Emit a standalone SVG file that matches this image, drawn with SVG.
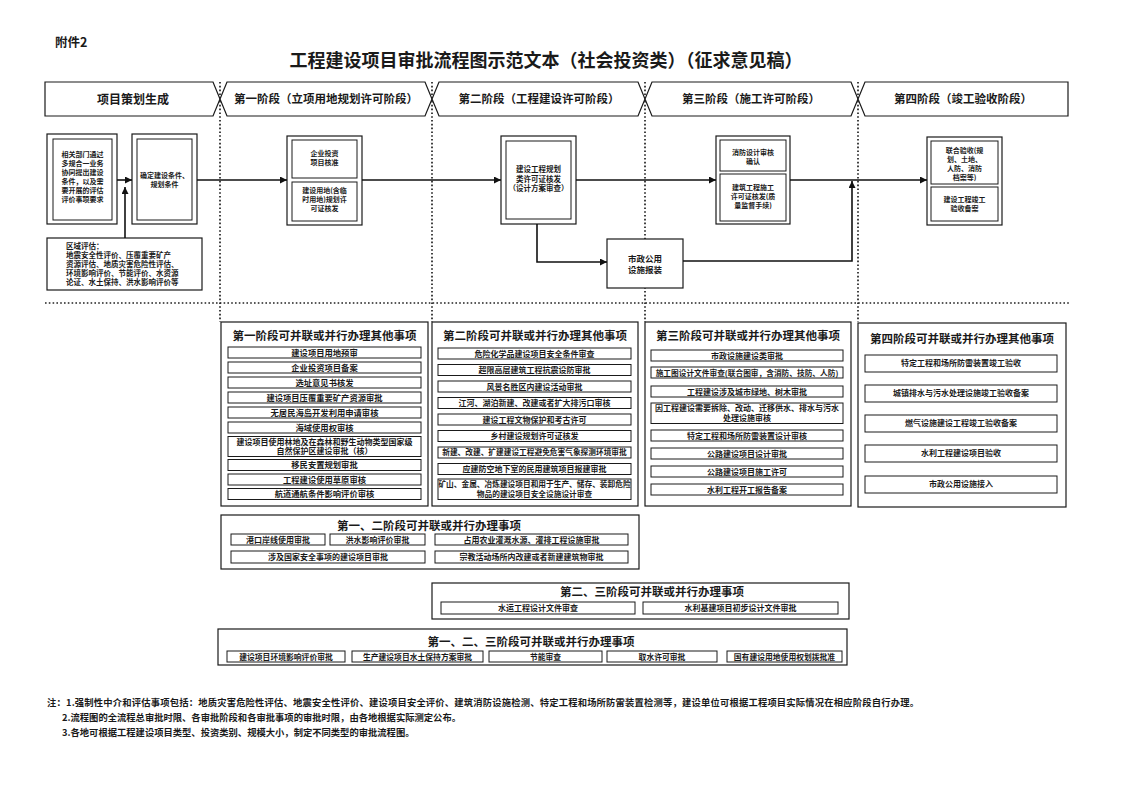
<svg xmlns="http://www.w3.org/2000/svg" width="1124" height="794" viewBox="0 0 1124 794">
<style>
.t{font-family:"Noto Sans CJK SC","Noto Sans CJK TC",sans-serif;font-weight:bold;fill:#1a1a1a;text-anchor:middle}
.l{text-anchor:start}
.b{fill:#fff;stroke:#1a1a1a;stroke-width:1.2}
.i{fill:#fff;stroke:#1a1a1a;stroke-width:1}
.dot{fill:none;stroke:#222;stroke-width:1.7;stroke-dasharray:1.6 2.2}
.ln{fill:none;stroke:#111;stroke-width:1.6}
.s7{font-size:7px}.s75{font-size:7.5px}.s8{font-size:8px}.s83{font-size:8.3px}
.h{font-size:11.5px}
</style>
<defs>
<marker id="ar" viewBox="0 0 10 10" refX="10" refY="5" markerWidth="8" markerHeight="7" markerUnits="userSpaceOnUse" orient="auto">
<path d="M0,0L10,5L0,10Z" fill="#111"/>
</marker>
</defs>
<rect width="1124" height="794" fill="#fff"/>

<text class="t l" x="55" y="47" style="font-size:12.5px">附件2</text>
<text class="t" x="546" y="67" style="font-size:18px">工程建设项目审批流程图示范文本（社会投资类）（征求意见稿）</text>

<g id="dividers">
<path class="dot" d="M220,82V322M432,82V322M645,82V322M858,82V322"/>
<path class="dot" d="M45,303H1070"/>
</g>

<g id="header">
<path class="b" d="M45,82H213L220,99L213,116H45Z"/>
<text class="t" x="133" y="103.5" style="font-size:12px">项目策划生成</text>
<path class="b" d="M227,82H425L432,99L425,116H227L220,99Z"/>
<text class="t h" x="326" y="103">第一阶段（立项用地规划许可阶段）</text>
<path class="b" d="M439,82H638L645,99L638,116H439L432,99Z"/>
<text class="t h" x="539" y="103">第二阶段（工程建设许可阶段）</text>
<path class="b" d="M652,82H851L858,99L851,116H652L645,99Z"/>
<text class="t h" x="751" y="103">第三阶段（施工许可阶段）</text>
<path class="b" d="M865,82H1068V116H865L858,99Z"/>
<text class="t h" x="963" y="103">第四阶段（竣工验收阶段）</text>
</g>

<g id="nodeA">
<rect class="b" x="47" y="134" width="70" height="90"/>
<rect class="i" x="53" y="139" width="59" height="81"/>
<text class="t s7"><tspan x="82.5" y="157">相关部门通过</tspan><tspan x="82.5" y="166">多规合一业务</tspan><tspan x="82.5" y="175">协同提出建设</tspan><tspan x="82.5" y="184">条件，以及需</tspan><tspan x="82.5" y="193">要开展的评估</tspan><tspan x="82.5" y="202">评价事项要求</tspan></text>
</g>
<g id="nodeB">
<rect class="b" x="132" y="134" width="65" height="90"/>
<rect class="i" x="137" y="139" width="55" height="81"/>
<text class="t s7"><tspan x="164.5" y="178">确定建设条件、</tspan><tspan x="164.5" y="187">规划条件</tspan></text>
</g>
<g id="region">
<rect class="b" x="47" y="238" width="155" height="52"/>
<text class="t l s75"><tspan x="66" y="248.5">区域评估：</tspan><tspan x="66" y="257.7">地震安全性评价、压覆重要矿产</tspan><tspan x="66" y="266.9">资源评估、地质灾害危险性评估、</tspan><tspan x="66" y="276.1">环境影响评价、节能评价、水资源</tspan><tspan x="66" y="285.3">论证、水土保持、洪水影响评价等</tspan></text>
</g>
<g id="stage1">
<rect class="b" x="287" y="136" width="75" height="89"/>
<rect class="i" x="292" y="140" width="65" height="38"/>
<rect class="i" x="292" y="182" width="65" height="39"/>
<text class="t s7"><tspan x="324.5" y="156">企业投资</tspan><tspan x="324.5" y="165">项目核准</tspan></text>
<text class="t s7"><tspan x="324.5" y="193">建设用地(含临</tspan><tspan x="324.5" y="202">时用地)规划许</tspan><tspan x="324.5" y="211">可证核发</tspan></text>
</g>
<g id="stage2">
<rect class="b" x="501" y="136" width="75" height="88"/>
<rect class="i" x="506" y="141" width="65" height="78"/>
<text class="t s75"><tspan x="538.5" y="172">建设工程规划</tspan><tspan x="538.5" y="181.5">类许可证核发</tspan><tspan x="538.5" y="191">（设计方案审查）</tspan></text>
</g>
<g id="municipal">
<rect class="b" x="607" y="239" width="76" height="49"/>
<text class="t" style="font-size:8.5px"><tspan x="645" y="261.5">市政公用</tspan><tspan x="645" y="273">设施报装</tspan></text>
</g>
<g id="stage3">
<rect class="b" x="716" y="136" width="74" height="88"/>
<rect class="i" x="720" y="140" width="66" height="31"/>
<rect class="i" x="720" y="174" width="66" height="47"/>
<text class="t s7"><tspan x="753" y="154.5">消防设计审核</tspan><tspan x="753" y="163.5">确认</tspan></text>
<text class="t s7"><tspan x="753" y="189.5">建筑工程施工</tspan><tspan x="753" y="198.5">许可证核发(质</tspan><tspan x="753" y="207.5">量监督手续)</tspan></text>
</g>
<g id="stage4">
<rect class="b" x="927" y="137" width="75" height="88"/>
<rect class="i" x="931" y="141" width="67" height="43"/>
<rect class="i" x="931" y="187" width="67" height="34"/>
<text class="t s7"><tspan x="964.5" y="152.5">联合验收(规</tspan><tspan x="964.5" y="161.5">划、土地、</tspan><tspan x="964.5" y="170.5">人防、消防</tspan><tspan x="964.5" y="179.5">档案等)</tspan></text>
<text class="t s7"><tspan x="964.5" y="202">建设工程竣工</tspan><tspan x="964.5" y="211">验收备案</tspan></text>
</g>

<g id="connectors">
<path class="ln" d="M117,180H132" marker-end="url(#ar)"/>
<path class="ln" d="M125,238V187" marker-end="url(#ar)"/>
<path class="ln" d="M197,180H287" marker-end="url(#ar)"/>
<path class="ln" d="M362,180H501" marker-end="url(#ar)"/>
<path class="ln" d="M576,180H716" marker-end="url(#ar)"/>
<path class="ln" d="M790,180H927" marker-end="url(#ar)"/>
<path class="ln" d="M537,224V262H607" marker-end="url(#ar)"/>
<path class="ln" d="M683,261H852V181" marker-end="url(#ar)"/>
</g>

<g id="list1">
<rect class="b" x="221" y="322" width="207" height="184"/>
<text class="t h" x="324.5" y="340">第一阶段可并联或并行办理其他事项</text>
<rect class="i" x="228" y="347" width="193" height="11"/><text class="t s83" x="324.5" y="355.6">建设项目用地预审</text>
<rect class="i" x="228" y="362" width="193" height="11"/><text class="t s83" x="324.5" y="370.6">企业投资项目备案</text>
<rect class="i" x="228" y="377" width="193" height="11"/><text class="t s83" x="324.5" y="385.6">选址意见书核发</text>
<rect class="i" x="228" y="392" width="193" height="11"/><text class="t s83" x="324.5" y="400.6">建设项目压覆重要矿产资源审批</text>
<rect class="i" x="228" y="407" width="193" height="11"/><text class="t s83" x="324.5" y="415.6">无居民海岛开发利用申请审核</text>
<rect class="i" x="228" y="422" width="193" height="11"/><text class="t s83" x="324.5" y="430.6">海域使用权审核</text>
<rect class="i" x="228" y="436.5" width="193" height="20"/><text class="t s8"><tspan x="324.5" y="444.5">建设项目使用林地及在森林和野生动物类型国家级</tspan><tspan x="324.5" y="454">自然保护区建设审批（核）</tspan></text>
<rect class="i" x="228" y="459.5" width="193" height="11"/><text class="t s83" x="324.5" y="468.1">移民安置规划审批</text>
<rect class="i" x="228" y="474" width="193" height="11"/><text class="t s83" x="324.5" y="482.6">工程建设使用草原审核</text>
<rect class="i" x="228" y="488.5" width="193" height="11"/><text class="t s83" x="324.5" y="497.1">航道通航条件影响评价审核</text>
</g>

<g id="list2">
<rect class="b" x="432" y="322" width="206" height="184"/>
<text class="t h" x="535" y="340">第二阶段可并联或并行办理其他事项</text>
<rect class="i" x="438" y="348" width="193" height="11"/><text class="t s8" x="534.5" y="356.5">危险化学品建设项目安全条件审查</text>
<rect class="i" x="438" y="364.5" width="193" height="11"/><text class="t s8" x="534.5" y="373">超限高层建筑工程抗震设防审批</text>
<rect class="i" x="438" y="381" width="193" height="11"/><text class="t s8" x="534.5" y="389.5">风景名胜区内建设活动审批</text>
<rect class="i" x="438" y="397.5" width="193" height="11"/><text class="t s8" x="534.5" y="406">江河、湖泊新建、改建或者扩大排污口审核</text>
<rect class="i" x="438" y="414" width="193" height="11"/><text class="t s8" x="534.5" y="422.5">建设工程文物保护和考古许可</text>
<rect class="i" x="438" y="430.5" width="193" height="11"/><text class="t s8" x="534.5" y="439">乡村建设规划许可证核发</text>
<rect class="i" x="438" y="447" width="193" height="11"/><text class="t" style="font-size:7.7px" x="534.5" y="455.4">新建、改建、扩建建设工程避免危害气象探测环境审批</text>
<rect class="i" x="438" y="463.5" width="193" height="11"/><text class="t s8" x="534.5" y="472">应建防空地下室的民用建筑项目报建审批</text>
<rect class="i" x="438" y="479" width="193" height="20.5"/><text class="t" style="font-size:7.7px"><tspan x="534.5" y="487.2">矿山、金属、冶炼建设项目和用于生产、储存、装卸危险</tspan><tspan x="534.5" y="496.5">物品的建设项目安全设施设计审查</tspan></text>
</g>

<g id="list3">
<rect class="b" x="645" y="322" width="206" height="184"/>
<text class="t h" x="748" y="340">第三阶段可并联或并行办理其他事项</text>
<rect class="i" x="651" y="350" width="192" height="11"/><text class="t s8" x="747" y="358.5">市政设施建设类审批</text>
<rect class="i" x="651" y="367" width="192" height="11"/><text class="t" style="font-size:7.7px" x="747" y="375.5">施工图设计文件审查(联合图审，含消防、技防、人防)</text>
<rect class="i" x="651" y="386" width="192" height="11"/><text class="t s8" x="747" y="394.5">工程建设涉及城市绿地、树木审批</text>
<rect class="i" x="651" y="403" width="192" height="20.5"/><text class="t s8"><tspan x="747" y="411.3">因工程建设需要拆除、改动、迁移供水、排水与污水</tspan><tspan x="747" y="420.8">处理设施审核</tspan></text>
<rect class="i" x="651" y="430" width="192" height="11"/><text class="t s8" x="747" y="438.5">特定工程和场所防雷装置设计审核</text>
<rect class="i" x="651" y="448" width="192" height="11"/><text class="t s8" x="747" y="456.5">公路建设项目设计审批</text>
<rect class="i" x="651" y="466" width="192" height="11"/><text class="t s8" x="747" y="474.5">公路建设项目施工许可</text>
<rect class="i" x="651" y="484" width="192" height="11"/><text class="t s8" x="747" y="492.5">水利工程开工报告备案</text>
</g>

<g id="list4">
<rect class="b" x="858" y="323" width="208" height="184"/>
<text class="t h" x="962" y="343">第四阶段可并联或并行办理其他事项</text>
<rect class="i" x="865" y="355" width="192" height="17"/><text class="t s8" x="961" y="366.3">特定工程和场所防雷装置竣工验收</text>
<rect class="i" x="865" y="385" width="192" height="17"/><text class="t s8" x="961" y="396.3">城镇排水与污水处理设施竣工验收备案</text>
<rect class="i" x="865" y="415" width="192" height="17"/><text class="t s8" x="961" y="426.3">燃气设施建设工程竣工验收备案</text>
<rect class="i" x="865" y="445" width="192" height="17"/><text class="t s8" x="961" y="456.3">水利工程建设项目验收</text>
<rect class="i" x="865" y="476" width="192" height="17"/><text class="t s8" x="961" y="487.3">市政公用设施接入</text>
</g>

<g id="par12">
<rect class="b" x="221" y="515" width="418" height="54"/>
<text class="t h" x="429" y="529.5">第一、二阶段可并联或并行办理事项</text>
<rect class="i" x="231" y="534" width="94" height="11"/><text class="t s8" x="278" y="542.5">港口岸线使用审批</text>
<rect class="i" x="330" y="534" width="95" height="11"/><text class="t s8" x="377.5" y="542.5">洪水影响评价审批</text>
<rect class="i" x="435" y="534" width="193" height="11"/><text class="t s8" x="531.5" y="542.5">占用农业灌溉水源、灌排工程设施审批</text>
<rect class="i" x="231" y="551" width="194" height="12"/><text class="t s8" x="328" y="560">涉及国家安全事项的建设项目审批</text>
<rect class="i" x="435" y="551" width="193" height="12"/><text class="t s8" x="531.5" y="560">宗教活动场所内改建或者新建建筑物审批</text>
</g>

<g id="par23">
<rect class="b" x="432" y="583" width="417" height="36"/>
<text class="t h" x="652" y="596">第二、三阶段可并联或并行办理事项</text>
<rect class="i" x="441" y="602" width="194" height="12"/><text class="t s8" x="538" y="611">水运工程设计文件审查</text>
<rect class="i" x="643" y="602" width="195" height="12"/><text class="t s8" x="740.5" y="611">水利基建项目初步设计文件审批</text>
</g>

<g id="par123">
<rect class="b" x="218" y="629" width="629" height="36"/>
<text class="t h" x="531" y="646">第一、二、三阶段可并联或并行办理事项</text>
<rect class="i" x="227" y="651" width="118" height="11"/><text class="t" style="font-size:7.8px" x="286" y="659.5">建设项目环境影响评价审批</text>
<rect class="i" x="352" y="651" width="131" height="11"/><text class="t" style="font-size:7.8px" x="417.5" y="659.5">生产建设项目水土保持方案审批</text>
<rect class="i" x="489" y="651" width="113" height="11"/><text class="t" style="font-size:7.8px" x="545.5" y="659.5">节能审查</text>
<rect class="i" x="607" y="651" width="110" height="11"/><text class="t" style="font-size:7.8px" x="662" y="659.5">取水许可审批</text>
<rect class="i" x="727" y="651" width="115" height="11"/><text class="t" style="font-size:7.8px" x="784.5" y="659.5">国有建设用地使用权划拨批准</text>
</g>

<g id="notes">
<text class="t l" x="47" y="706" style="font-size:9.3px" textLength="872" lengthAdjust="spacing">注：1.强制性中介和评估事项包括：地质灾害危险性评估、地震安全性评价、建设项目安全评价、建筑消防设施检测、特定工程和场所防雷装置检测等，建设单位可根据工程项目实际情况在相应阶段自行办理。</text>
<text class="t l" x="62" y="721" style="font-size:9.3px">2.流程图的全流程总审批时限、各审批阶段和各审批事项的审批时限，由各地根据实际测定公布。</text>
<text class="t l" x="62" y="736" style="font-size:9.3px">3.各地可根据工程建设项目类型、投资类别、规模大小，制定不同类型的审批流程图。</text>
</g>
</svg>
